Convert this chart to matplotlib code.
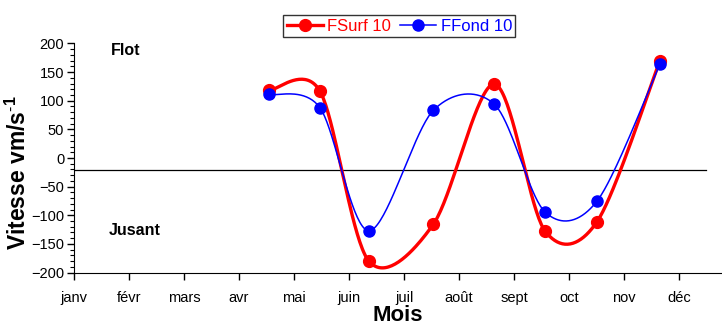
import numpy as np
import matplotlib.pyplot as plt

plt.rcParams['font.family'] = ['Liberation Sans', 'DejaVu Sans']
plt.rcParams['mathtext.fontset'] = 'custom'
plt.rcParams['mathtext.bf'] = 'Liberation Sans:bold'
plt.rcParams['mathtext.rm'] = 'Liberation Sans'

# Months (0 = janv) and measured velocities
mois = ['janv', 'févr', 'mars', 'avr', 'mai', 'juin', 'juil', 'août', 'sept', 'oct', 'nov', 'déc']
dates = [3.55, 4.47, 5.36, 6.53, 7.64, 8.56, 9.51, 10.65]
fsurf = [118, 117, -180, -116, 129, -127, -111, 170]
ffond = [111, 88, -127, 83, 94, -94, -75, 164]
seuil = -21


def smooth(x, y, n=40, k=6.5):
    # Bezier smoothing through every point (Catmull-Rom style control points)
    p = np.column_stack([x, y]).astype(float)
    ext = np.vstack([p[0], p, p[-1]])
    pts = []
    t = np.linspace(0, 1, n, endpoint=False)[:, None]
    for i in range(len(p) - 1):
        p0, p1, p2, p3 = ext[i], ext[i + 1], ext[i + 2], ext[i + 3]
        b1 = p1 + (p2 - p0) / k
        b2 = p2 - (p3 - p1) / k
        seg = ((1 - t) ** 3) * p1 + 3 * ((1 - t) ** 2) * t * b1 + 3 * (1 - t) * t ** 2 * b2 + t ** 3 * p2
        pts.append(seg)
    pts.append(p[-1][None, :])
    c = np.vstack(pts)
    marks = list(range(0, n * (len(p) - 1) + 1, n))
    return c[:, 0], c[:, 1], marks


fig = plt.figure(figsize=(7.22, 3.26), dpi=100)
ax = fig.add_axes([0.1025, 0.164, 0.8975, 0.7026])

xs, ys, mk = smooth(dates, fsurf)
ax.plot(xs, ys, '-o', color='#ff0000', lw=2.4, ms=8.5, markevery=mk, label='FSurf 10', zorder=3)
xs, ys, mk = smooth(dates, ffond)
ax.plot(xs, ys, '-o', color='#0000ff', lw=1.1, ms=8, markevery=mk, label='FFond 10', zorder=4)

ax.axhline(seuil, xmin=0, xmax=0.975, color='black', lw=0.9, zorder=2)

ax.set_xlim(0, 11.78)
ax.set_ylim(-200, 200)
ax.set_xticks(range(12))
ax.set_xticklabels(mois, fontsize=10.5)
ax.set_yticks(range(-200, 201, 50))
ax.set_yticks(range(-200, 201, 10), minor=True)
ax.tick_params(axis='y', labelsize=10.5, pad=2)
ax.tick_params(axis='both', which='major', length=5, width=1)
ax.tick_params(axis='y', which='minor', length=3, width=0.8)
ax.tick_params(axis='x', pad=8)
for s in ['top', 'right']:
    ax.spines[s].set_visible(False)

ax.set_xlabel('Mois', fontsize=16, fontweight='bold', labelpad=0)
ax.set_ylabel('Vitesse vm/s$^{\\mathbf{\\text{-}1}}$', fontsize=16.5, fontweight='bold')
ax.yaxis.set_label_coords(-0.066, 0.434)

ax.text(0.67, 187, 'Flot', fontsize=11.5, fontweight='bold', va='center')
ax.text(0.64, -126, 'Jusant', fontsize=11.5, fontweight='bold', va='center')

leg = fig.legend(loc='center', bbox_to_anchor=(0.553, 0.92), ncol=2, fontsize=12,
                 frameon=True, fancybox=False, edgecolor='black', handlelength=2.2,
                 columnspacing=0.5, handletextpad=0.25, borderpad=0.2)
leg.get_frame().set_linewidth(1)
for txt, col in zip(leg.get_texts(), ['#ff0000', '#0000ff']):
    txt.set_color(col)

fig.savefig('out.png', dpi=100)
